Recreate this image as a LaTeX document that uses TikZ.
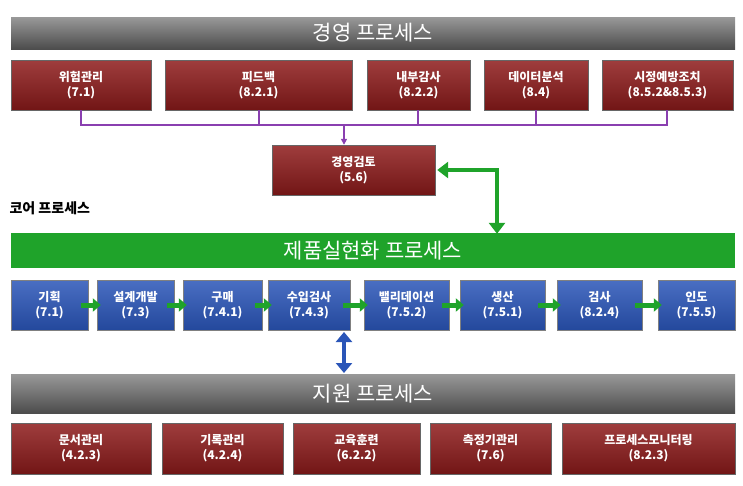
\documentclass[tikz,border=0pt]{standalone}
\usepackage{fontspec}
\setmainfont{Noto Sans CJK KR}
\usetikzlibrary{arrows.meta}
\definecolor{dred}{HTML}{8E1B1B}
\definecolor{dblue}{HTML}{2A55B8}
\definecolor{gbar}{HTML}{1FA32A}
\definecolor{purp}{HTML}{8A3FB0}
\tikzset{
 redbox/.style={draw=black!60,top color=dred!85!white,bottom color=dred!80!black,text=white,font=\bfseries\fontsize{12}{15}\selectfont,align=center,inner sep=0pt},
 bluebox/.style={draw=black!50,top color=dblue!85!white,bottom color=dblue!85!black,text=white,font=\bfseries\fontsize{12}{15}\selectfont,align=center,inner sep=0pt},
 graybar/.style={top color=black!40,bottom color=black!70,text=white,font=\fontsize{21}{24}\selectfont,inner sep=0pt},
 greenbar/.style={fill=gbar,text=white,font=\fontsize{21}{24}\selectfont,inner sep=0pt},
 flowar/.style={-{Triangle[length=8pt,width=13pt]},line width=5pt,gbar},
}
\begin{document}
\begin{tikzpicture}[x=1pt,y=-1pt]
\useasboundingbox (0,0) rectangle (743,485);
\newcommand{\bx}[6]{\node[#1,minimum width=#4-#3,minimum height=#6-#5] (#2) at ({(#3+#4)/2},{(#5+#6)/2})}
\bx{graybar}{top}{11}{735}{17}{49} {경영 프로세스};
\bx{redbox}{a1}{11}{151}{60}{110} {위험관리\\(7.1)};
\bx{redbox}{a2}{165}{352}{60}{110} {피드백\\(8.2.1)};
\bx{redbox}{a3}{367}{470}{60}{110} {내부감사\\(8.2.2)};
\bx{redbox}{a4}{484}{588}{60}{110} {데이터분석\\(8.4)};
\bx{redbox}{a5}{602}{733}{60}{110} {시정예방조치\\(8.5.2\&8.5.3)};
\bx{redbox}{rev}{272}{435}{145}{195} {경영검토\\(5.6)};
\coordinate (bus) at (344,125);
\draw[purp,line width=1.5pt] (81,110) |- (667,125) -- (667,110);
\foreach \x in {259,418,536} \draw[purp,line width=1.5pt] (\x,110) -- (\x,125);
\draw[purp,line width=1.5pt,-{Triangle[length=6pt,width=6pt]}] (bus) -- (rev.north -| bus);
\node[anchor=west,font=\bfseries\fontsize{14}{16}\selectfont] (core) at (6,208) {코어 프로세스};
\bx{greenbar}{gb}{11}{735}{233}{268} {제품실현화 프로세스};
\draw[gbar,line width=4.5pt,{Triangle[length=11pt,width=16pt]}-{Triangle[length=11pt,width=16pt]}] ([xshift=2pt]rev.east) -| ([yshift=-1pt]gb.north -| 497,0);
\bx{bluebox}{b1}{11}{88}{280}{330} {기획\\(7.1)};
\bx{bluebox}{b2}{97}{174}{280}{330} {설계개발\\(7.3)};
\bx{bluebox}{b3}{183}{262}{280}{330} {구매\\(7.4.1)};
\bx{bluebox}{b4}{268}{350}{280}{330} {수입검사\\(7.4.3)};
\bx{bluebox}{b5}{364}{449}{280}{330} {밸리데이션\\(7.5.2)};
\bx{bluebox}{b6}{460}{545}{280}{330} {생산\\(7.5.1)};
\bx{bluebox}{b7}{557}{642}{280}{330} {검사\\(8.2.4)};
\bx{bluebox}{b8}{658}{735}{280}{330} {인도\\(7.5.5)};
\foreach \i/\j in {b1/b2,b2/b3,b3/b4,b4/b5,b5/b6,b6/b7,b7/b8}
  \draw[flowar] ([xshift=-7pt]\i.east) -- ([xshift=4pt]\j.west);
\bx{graybar}{sup}{11}{735}{374}{413} {지원 프로세스};
\draw[dblue,line width=4.5pt,{Triangle[length=10pt,width=16pt]}-{Triangle[length=10pt,width=16pt]}] (344,332) -- (344,373);
\bx{redbox}{c1}{11}{151}{423}{474} {문서관리\\(4.2.3)};
\bx{redbox}{c2}{162}{283}{423}{474} {기록관리\\(4.2.4)};
\bx{redbox}{c3}{293}{420}{423}{474} {교육훈련\\(6.2.2)};
\bx{redbox}{c4}{430}{551}{423}{474} {측정기관리\\(7.6)};
\bx{redbox}{c5}{562}{735}{423}{474} {프로세스모니터링\\(8.2.3)};
\end{tikzpicture}
\end{document}
